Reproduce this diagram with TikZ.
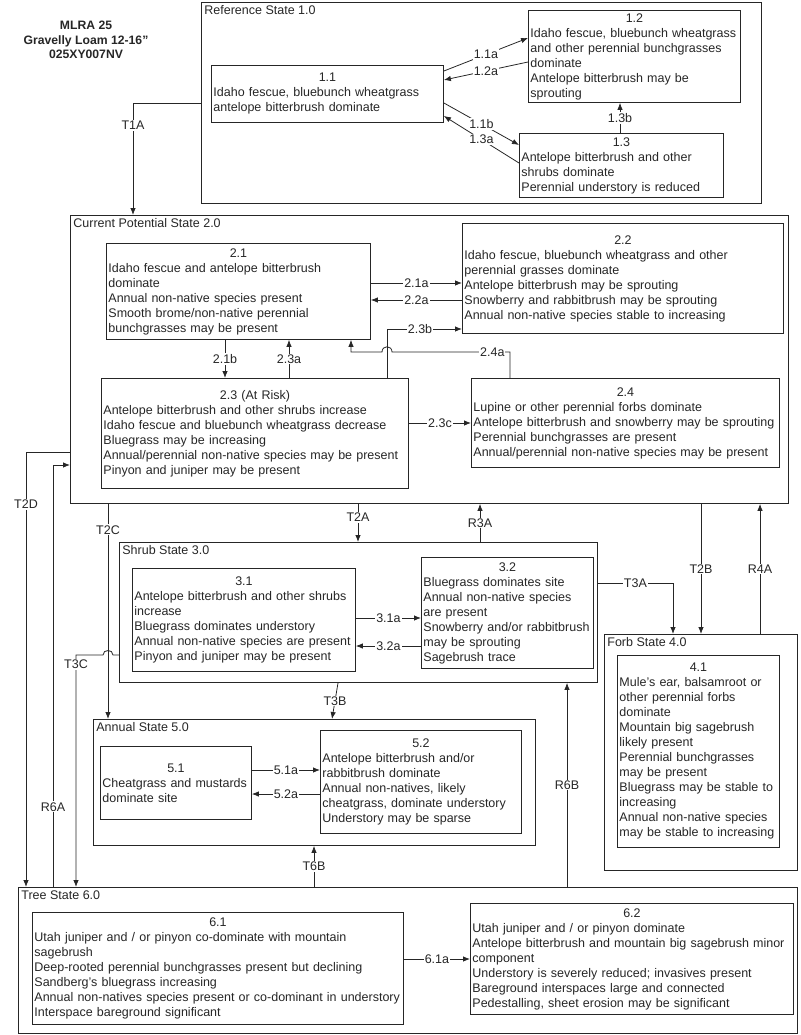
\documentclass[tikz,border=0pt]{standalone}
\usepackage{fontspec}
\setmainfont{Liberation Sans}
\usetikzlibrary{arrows.meta}

\begin{document}
\begin{tikzpicture}[->,>={Latex[length=7pt,width=5.5pt]},x=1pt,y=-1pt,
    color=black!85,line width=0.8pt,font=\fontsize{12.5}{15}\selectfont,
    statebox/.style={draw,line width=0.9pt,anchor=north west,inner sep=0pt},
    statename/.style={anchor=north west,inner sep=3pt},
    phase/.style={draw,line width=0.9pt,anchor=north west,align=left,inner sep=2pt},
    lbl/.style={fill=white,inner sep=1pt}]
  \useasboundingbox (0,0) rectangle (800,1035);

  \node[font=\fontsize{12.2}{14.5}\selectfont\bfseries,align=center] (title) at (86,40)
    {MLRA 25\\Gravelly Loam 12-16"\\025XY007NV};

  % reference state
  \node[statebox,minimum width=560,minimum height=201,
    label={[statename]north west:Reference State 1.0}] (S1) at (201,2) {};
  \node[phase,text width=228,minimum height=57] (11) at (211,65)
    {{\centering 1.1\par}Idaho fescue, bluebunch wheatgrass\\antelope bitterbrush dominate};
  \node[phase,text width=208,minimum height=92] (12) at (528,10)
    {{\centering 1.2\par}Idaho fescue, bluebunch wheatgrass\\and other perennial bunchgrasses\\dominate\\Antelope bitterbrush may be\\sprouting};
  \node[phase,text width=200,minimum height=64] (13) at (519,133)
    {{\centering 1.3\par}Antelope bitterbrush and other\\shrubs dominate\\Perennial understory is reduced};

  \path (11.east |- 0,71) edge node[lbl]{1.1a} (12.west |- 0,38)
  (12.west |- 0,62) edge node[lbl]{1.2a} (11.east |- 0,80)
  (11.east |- 0,103) edge node[lbl]{1.1b} (13.west |- 0,145)
  (13.west |- 0,163) edge node[lbl]{1.3a} (11.east |- 0,116)
  (13.north -| 620,0) edge node[lbl]{1.3b} (12.south -| 620,0);

  % current potential state
  \node[statebox,minimum width=718,minimum height=288,
    label={[statename]north west:Current Potential State 2.0}] (S2) at (70,215) {};
  \node[phase,text width=260,minimum height=96] (21) at (106,243)
    {{\centering 2.1\par}Idaho fescue and antelope bitterbrush\\dominate\\Annual non-native species present\\Smooth brome/non-native perennial\\bunchgrasses may be present};
  \node[phase,text width=317,minimum height=110] (22) at (462,223)
    {{\centering 2.2\par}Idaho fescue, bluebunch wheatgrass and other\\perennial grasses dominate\\Antelope bitterbrush may be sprouting\\Snowberry and rabbitbrush may be sprouting\\Annual non-native species stable to increasing};
  \node[phase,text width=303,minimum height=110] (23) at (101,378)
    {{\centering 2.3 (At Risk)\par}Antelope bitterbrush and other shrubs increase\\Idaho fescue and bluebunch wheatgrass decrease\\Bluegrass may be increasing\\Annual/perennial non-native species may be present\\Pinyon and juniper may be present};
  \node[phase,text width=304,minimum height=89] (24) at (471,378)
    {{\centering 2.4\par}Lupine or other perennial forbs dominate\\Antelope bitterbrush and snowberry may be sprouting\\Perennial bunchgrasses are present\\Annual/perennial non-native species may be present};

  \path (21.east |- 0,283) edge node[lbl]{2.1a} (22.west |- 0,283)
  (22.west |- 0,300) edge node[lbl]{2.2a} (21.east |- 0,300)
  (21.south -| 225,0) edge node[lbl]{2.1b} (23.north -| 225,0)
  (23.north -| 289,0) edge node[lbl]{2.3a} (21.south -| 289,0)
  (23.east |- 0,423) edge node[lbl]{2.3c} (24.west |- 0,423);
  \draw (23.north -| 387,0) |- node[lbl,pos=0.72]{2.3b} (22.west |- 0,329);
  \draw (24.north -| 510,0) -- (510,352) -- node[lbl,pos=0.15]{2.4a} (392,352)
    .. controls (392,345) and (382,345) .. (382,352) -- (351,352) -- (21.south -| 351,0);

  % shrub state
  \node[statebox,minimum width=478,minimum height=140,
    label={[statename]north west:Shrub State 3.0}] (S3) at (119,542) {};
  \node[phase,text width=219,minimum height=103] (31) at (132,568)
    {{\centering 3.1\par}Antelope bitterbrush and other shrubs\\increase\\Bluegrass dominates understory\\Annual non-native species are present\\Pinyon and juniper may be present};
  \node[phase,text width=168,minimum height=111] (32) at (421,557)
    {{\centering 3.2\par}Bluegrass dominates site\\Annual non-native species\\are present\\Snowberry and/or rabbitbrush\\may be sprouting\\Sagebrush trace};

  \path (31.east |- 0,618) edge node[lbl]{3.1a} (32.west |- 0,618)
  (32.west |- 0,646) edge node[lbl]{3.2a} (31.east |- 0,646);

  % forb state
  \node[statebox,minimum width=193,minimum height=236,
    label={[statename]north west:Forb State 4.0}] (S4) at (604,634) {};
  \node[phase,text width=158,minimum height=192] (41) at (617,655)
    {{\centering 4.1\par}Mule's ear, balsamroot or\\other perennial forbs\\dominate\\Mountain big sagebrush\\likely present\\Perennial bunchgrasses\\may be present\\Bluegrass may be stable to\\increasing\\Annual non-native species\\may be stable to increasing};

  % annual state
  \node[statebox,minimum width=442,minimum height=126,
    label={[statename]north west:Annual State 5.0}] (S5) at (93,719) {};
  \node[phase,text width=147,minimum height=73] (51) at (100,746)
    {{\centering 5.1\par}Cheatgrass and mustards\\dominate site};
  \node[phase,text width=197,minimum height=103] (52) at (320,730)
    {{\centering 5.2\par}Antelope bitterbrush and/or\\rabbitbrush dominate\\Annual non-natives, likely\\cheatgrass, dominate understory\\Understory may be sparse};

  \path (51.east |- 0,770) edge node[lbl]{5.1a} (52.west |- 0,770)
  (52.west |- 0,794) edge node[lbl]{5.2a} (51.east |- 0,794);

  % tree state
  \node[statebox,minimum width=779,minimum height=146,
    label={[statename]north west:Tree State 6.0}] (S6) at (18,887) {};
  \node[phase,text width=367,minimum height=112] (61) at (32,912)
    {{\centering 6.1\par}Utah juniper and / or pinyon co-dominate with mountain\\sagebrush\\Deep-rooted perennial bunchgrasses present but declining\\Sandberg's bluegrass increasing\\Annual non-natives species present or co-dominant in understory\\Interspace bareground significant};
  \node[phase,text width=319,minimum height=111] (62) at (470,903)
    {{\centering 6.2\par}Utah juniper and / or pinyon dominate\\Antelope bitterbrush and mountain big sagebrush minor\\component\\Understory is severely reduced; invasives present\\Bareground interspaces large and connected\\Pedestalling, sheet erosion may be significant};

  \path (61.east |- 0,959) edge node[lbl]{6.1a} (62.west |- 0,959);

  % transitions between states
  \draw (S1.west) -| node[lbl,pos=0.6]{T1A} (S2.north -| 133,0);
  \path (S2.south -| 358,0) edge node[lbl,pos=0.35]{T2A} (S3.north -| 358,0)
  (S3.north -| 480,0) edge node[lbl]{R3A} (S2.south -| 480,0)
  (S2.south -| 701,0) edge node[lbl]{T2B} (S4.north -| 701,0)
  (S4.north -| 760,0) edge node[lbl]{R4A} (S2.south -| 760,0)
  (S2.south -| 108,0) edge node[lbl,pos=0.12]{T2C} (S5.north -| 108,0)
  (S3.south -| 338,0) edge node[lbl]{T3B} (S5.north -| 332,0)
  (S6.north -| 314,0) edge node[lbl]{T6B} (S5.south -| 314,0)
  (S6.north -| 567,0) edge node[lbl]{R6B} (S3.south -| 567,0);
  \draw (S3.east |- 0,583) -| node[lbl,pos=0.25]{T3A} (S4.north -| 673,0);
  \draw (S2.west |- 0,452) -| node[lbl,pos=0.56]{T2D} (S6.north -| 26,0);
  \draw (S6.north -| 53,0) |- node[lbl,pos=0.095]{R6A} (S2.west |- 0,465);
  \draw (S3.west |- 0,655) -- (113,655) .. controls (113,649) and (103,649) .. (103,655)
    -- (76,655) -- node[lbl,pos=0.04]{T3C} (S6.north -| 76,0);
\end{tikzpicture}
\end{document}
